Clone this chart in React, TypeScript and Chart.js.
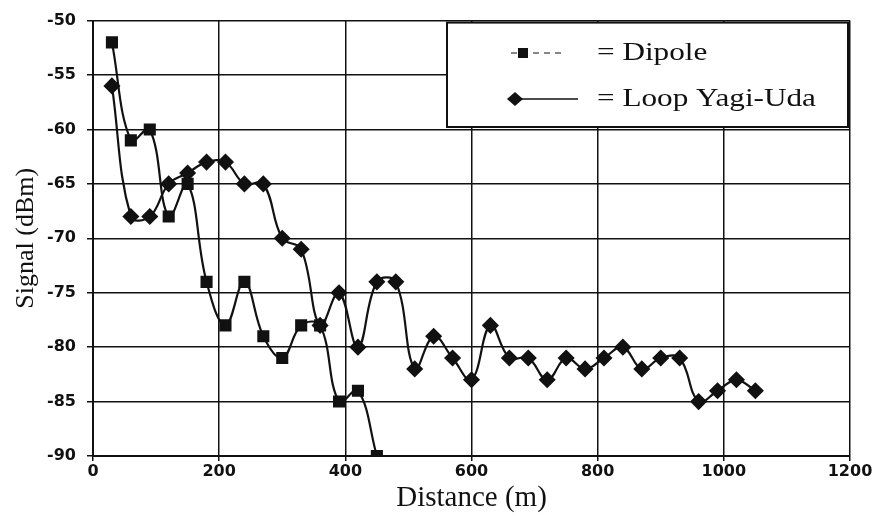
import React, { useEffect, useRef } from "react";
import { Chart, registerables } from "chart.js";

Chart.register(...registerables);

const distances = [30, 60, 90, 120, 150, 180, 210, 240, 270, 300, 330, 360, 390, 420, 450, 480, 510, 540, 570, 600, 630, 660, 690, 720, 750, 780, 810, 840, 870, 900, 930, 960, 990, 1020, 1050];
const dipoleSignal = [-52, -61, -60, -68, -65, -74, -78, -74, -79, -81, -78, -78, -85, -84, -90];
const loopSignal = [-56, -68, -68, -65, -64, -63, -63, -65, -65, -70, -71, -78, -75, -80, -74, -74, -82, -79, -81, -83, -78, -81, -81, -83, -81, -82, -81, -80, -82, -81, -81, -85, -84, -83, -84];
const legendLabels = ["= Dipole", "= Loop Yagi-Uda"];
const xTitle = "Distance (m)";
const yTitle = "Signal (dBm)";

const INK = "#111111";
const TICK_FONT = { family: "'DejaVu Sans', 'Liberation Sans', Arial, sans-serif", size: 16, weight: "bold" };

const legendPlugin = {
  id: "boxLegend",
  afterDraw(chart: any) {
    const ctx = chart.ctx;
    const area = chart.chartArea;
    const left = 447, top = area.top + 2, right = 848, bottom = 127;
    ctx.save();
    ctx.fillStyle = "#ffffff";
    ctx.fillRect(left, top, right - left, bottom - top);
    ctx.strokeStyle = INK;
    ctx.lineWidth = 2;
    ctx.strokeRect(left, top, right - left, bottom - top);
    // entry 1: dipole
    const y1 = 53;
    ctx.lineWidth = 1;
    ctx.setLineDash([6, 5]);
    ctx.beginPath();
    ctx.moveTo(511, y1);
    ctx.lineTo(566, y1);
    ctx.stroke();
    ctx.setLineDash([]);
    ctx.fillStyle = INK;
    ctx.fillRect(518, y1 - 5, 10, 10);
    // entry 2: loop
    const y2 = 99;
    ctx.lineWidth = 1.5;
    ctx.beginPath();
    ctx.moveTo(515, y2);
    ctx.lineTo(578, y2);
    ctx.stroke();
    ctx.beginPath();
    ctx.moveTo(515, y2 - 7);
    ctx.lineTo(523, y2);
    ctx.lineTo(515, y2 + 7);
    ctx.lineTo(507, y2);
    ctx.closePath();
    ctx.fill();
    ctx.font = "26px 'Liberation Serif', 'Times New Roman', serif";
    ctx.textBaseline = "middle";
    ctx.textAlign = "left";
    ctx.translate(597, 0);
    ctx.scale(1.2, 1);
    ctx.fillText(legendLabels[0], 0, y1);
    ctx.fillText(legendLabels[1], 0, y2);
    ctx.restore();
  },
};

export default function App() {
  const ref = useRef<HTMLCanvasElement>(null);
  useEffect(() => {
    if (!ref.current) return;
    const chart = new Chart(ref.current, {
      type: "line",
      data: {
        datasets: [
          {
            label: legendLabels[0],
            data: dipoleSignal.map((v, i) => ({ x: distances[i], y: v })),
            borderColor: INK,
            backgroundColor: INK,
            borderWidth: 2.2,
            pointStyle: "rect",
            pointRadius: 7,
            pointHoverRadius: 7,
            tension: 0.4,
            fill: false,
          },
          {
            label: legendLabels[1],
            data: loopSignal.map((v, i) => ({ x: distances[i], y: v })),
            borderColor: INK,
            backgroundColor: INK,
            borderWidth: 2.2,
            pointStyle: "rectRot",
            pointRadius: 7,
            pointHoverRadius: 7,
            tension: 0.4,
            fill: false,
          },
        ],
      },
      options: {
        responsive: false,
        animation: false,
        layout: { padding: { top: 20, right: 24, left: 0, bottom: 0 } },
        plugins: { legend: { display: false }, tooltip: { enabled: false } },
        scales: {
          x: {
            type: "linear",
            min: 0,
            max: 1200,
            ticks: {
              stepSize: 200,
              color: INK,
              font: TICK_FONT,
              padding: 1,
              maxRotation: 0,
              callback: (v: any) => String(v),
            },
            grid: { color: INK, lineWidth: 1.5, tickLength: 5, drawTicks: true },
            border: { color: INK, width: 2 },
            title: {
              display: true,
              text: xTitle,
              color: INK,
              font: { family: "'Liberation Serif', 'Times New Roman', serif", size: 29, lineHeight: 1.2 },
              padding: { top: 4, bottom: 0 },
            },
            afterFit(scale: any) {
              scale.height = 60;
            },
          },
          y: {
            type: "linear",
            min: -90,
            max: -50,
            ticks: {
              stepSize: 5,
              color: INK,
              font: TICK_FONT,
              padding: 11,
              callback: (v: any) => String(v),
            },
            grid: { color: INK, lineWidth: 1.5, tickLength: 6 },
            border: { color: INK, width: 2 },
            title: {
              display: true,
              text: yTitle,
              color: INK,
              font: { family: "'Liberation Serif', 'Times New Roman', serif", size: 26, lineHeight: 1.2 },
              padding: { top: 11, bottom: 0 },
            },
            afterFit(scale: any) {
              scale.width = 93;
            },
          },
        },
      },
      plugins: [legendPlugin],
    } as any);
    return () => chart.destroy();
  }, []);
  return (
    <div style={{ position: "absolute", left: 0, top: 0, width: 874, height: 516, background: "#fff" }}>
      <canvas ref={ref} width={874} height={516} />
    </div>
  );
}
